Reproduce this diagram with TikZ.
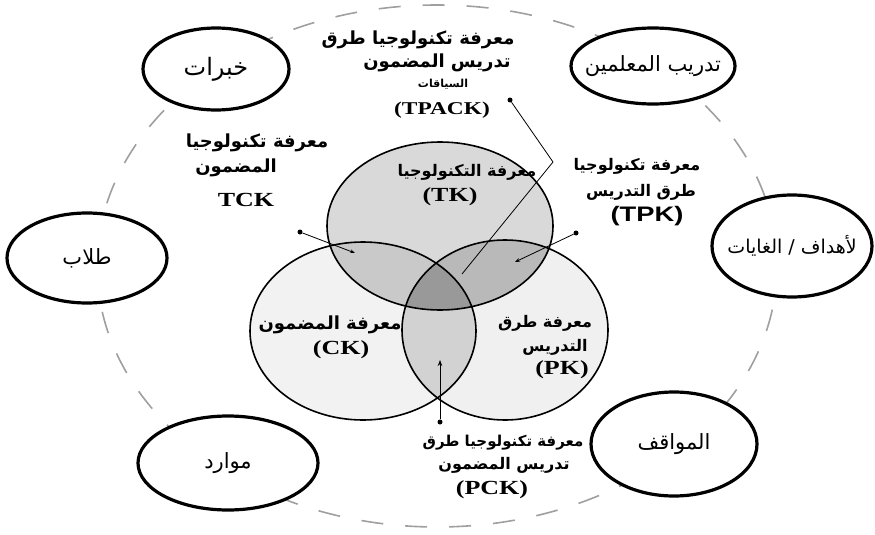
\documentclass[tikz,border=0pt]{standalone}
\usepackage{fontspec}
\usetikzlibrary{shapes.geometric,arrows.meta}
\TeXXeTstate=1
\newfontfamily\arabicfont[Script=Arabic]{DejaVu Sans}
\newfontfamily\latserif[FakeStretch=1.3]{Liberation Serif}
\newfontfamily\latsans[FakeStretch=1.3]{Liberation Sans}
\newcommand\fs[1]{\fontsize{#1}{#1}\selectfont}
\tikzset{
  oval/.style={ellipse, draw, line width=3.2pt, fill=white, inner sep=0pt},
  ovtxt/.style={font=\arabicfont\fs{21}, inner sep=0pt},
  albl/.style={font=\arabicfont\bfseries\fs{15}, inner sep=0pt},
  llbl/.style={font=\latserif\bfseries\fs{20}, inner sep=0pt},
  lsans/.style={font=\latsans\bfseries\fs{21}, inner sep=0pt},
  venn/.style={line width=1.6pt},
  leader/.style={line width=0.8pt},
  dotend/.style={circle, fill=black, inner sep=0pt, minimum size=5pt},
  outer/.style={draw=gray!75, line width=1.6pt, dash pattern=on 22pt off 22pt}
}
\begin{document}
\begin{tikzpicture}[x=1pt,y=-1pt]
\useasboundingbox (0,0) rectangle (875,535);
% outer ring
\draw[outer] (437,266) ellipse [x radius=340, y radius=261];
% Venn fills
\def\TKp{(440,226) ellipse [x radius=113, y radius=84]}
\def\CKp{(363,331) ellipse [x radius=113, y radius=89]}
\def\PKp{(505,330) ellipse [x radius=103, y radius=90]}
\fill[gray!30] \TKp;
\fill[gray!10] \CKp;
\fill[gray!12] \PKp;
\begin{scope}
  \clip \TKp;
  \fill[gray!42] \CKp;
  \fill[gray!55] \PKp;
\end{scope}
\begin{scope}
  \clip \CKp;
  \fill[gray!35] \PKp;
  \clip \PKp;
  \fill[gray!80] \TKp;
\end{scope}
\draw[venn] \TKp;
\draw[venn] \CKp;
\draw[venn] \PKp;
% outer ovals
\node[oval, minimum width=146pt, minimum height=82pt] (khibrat) at (216,69) {};
\node[ovtxt, font=\arabicfont\fs{24}] (khibratT) at (khibrat.center) {\beginR خبرات\endR};
\node[oval, minimum width=164pt, minimum height=76pt] (tadrib) at (653,66) {};
\node[ovtxt] (tadribT) at (tadrib.center) {\beginR تدريب المعلمين\endR};
\node[oval, minimum width=160pt, minimum height=90pt] (tullab) at (87,258) {};
\node[ovtxt] (tullabT) at (tullab.center) {\beginR طلاب\endR};
\node[oval, minimum width=160pt, minimum height=102pt] (ahdaf) at (792,246) {};
\node[ovtxt, font=\arabicfont\fs{19}] (ahdafT) at (ahdaf.center) {\beginR لأهداف / الغايات\endR};
\node[oval, minimum width=180pt, minimum height=94pt] (mawarid) at (228,463) {};
\node[ovtxt] (mawaridT) at (mawarid.center) {\beginR موارد\endR};
\node[oval, minimum width=166pt, minimum height=104pt] (mawaqif) at (674,444) {};
\node[ovtxt] (mawaqifT) at (mawaqif.center) {\beginR المواقف\endR};
% TPACK label
\node[albl, font=\arabicfont\bfseries\fs{18}] (tpack1) at (418,40) {\beginR معرفة تكنولوجيا طرق\endR};
\node[albl, font=\arabicfont\bfseries\fs{18}] (tpack2) at (437,63) {\beginR تدريس المضمون\endR};
\node[albl, font=\arabicfont\bfseries\fs{11}] (tpack3) at (443,84) {\beginR السياقات\endR};
\node[llbl, font=\latserif\bfseries\fs{18}] (tpack4) at (442,110) {(TPACK)};
% TCK label
\node[albl, font=\arabicfont\bfseries\fs{18}] (tck1) at (257,143) {\beginR معرفة تكنولوجيا\endR};
\node[albl, font=\arabicfont\bfseries\fs{18}] (tck2) at (236,168) {\beginR المضمون\endR};
\node[llbl] (tck3) at (246,200) {TCK};
% TPK label
\node[albl, font=\arabicfont\bfseries\fs{16}] (tpk1) at (637,166) {\beginR معرفة تكنولوجيا\endR};
\node[albl, font=\arabicfont\bfseries\fs{16}] (tpk2) at (641,192) {\beginR طرق التدريس\endR};
\node[lsans] (tpk3) at (647,216) {(TPK)};
% TK label
\node[albl, font=\arabicfont\bfseries\fs{16}] (tk1) at (467,172) {\beginR معرفة التكنولوجيا\endR};
\node[llbl] (tk2) at (450,197) {(TK)};
% CK label
\node[albl, font=\arabicfont\bfseries\fs{18}] (ck1) at (330,325) {\beginR معرفة المضمون\endR};
\node[llbl] (ck2) at (341,350) {(CK)};
% PK label
\node[albl, font=\arabicfont\bfseries\fs{16}] (pk1) at (545,323) {\beginR معرفة طرق\endR};
\node[albl, font=\arabicfont\bfseries\fs{16}] (pk2) at (555,347) {\beginR التدريس\endR};
\node[llbl] (pk3) at (562,370) {(PK)};
% PCK label
\node[albl, font=\arabicfont\bfseries\fs{15}] (pck1) at (503,443) {\beginR معرفة تكنولوجيا طرق\endR};
\node[albl, font=\arabicfont\bfseries\fs{16}] (pck2) at (504,465) {\beginR تدريس المضمون\endR};
\node[llbl] (pck3) at (492,490) {(PCK)};
% leaders
\node[dotend] (tpackdot) at (510,100) {};
\coordinate (tpackbend) at (553,162);
\coordinate (tpackend) at (462,274);
\draw[leader] (tpackdot) -- (tpackbend) -- (tpackend);
\node[dotend] (tckdot) at (300,232) {};
\coordinate (tckend) at (355,253);
\draw[leader,-{Stealth[length=5pt]}] (tckdot) -- (tckend);
\node[dotend] (tpkdot) at (576,233) {};
\coordinate (tpkend) at (515,262);
\draw[leader,-{Stealth[length=5pt]}] (tpkdot) -- (tpkend);
\node[dotend] (pckdot) at (440,422) {};
\coordinate (pckend) at (440,360);
\draw[leader,-{Stealth[length=6pt]}] (pckdot) -- (pckend);
\end{tikzpicture}
\end{document}
